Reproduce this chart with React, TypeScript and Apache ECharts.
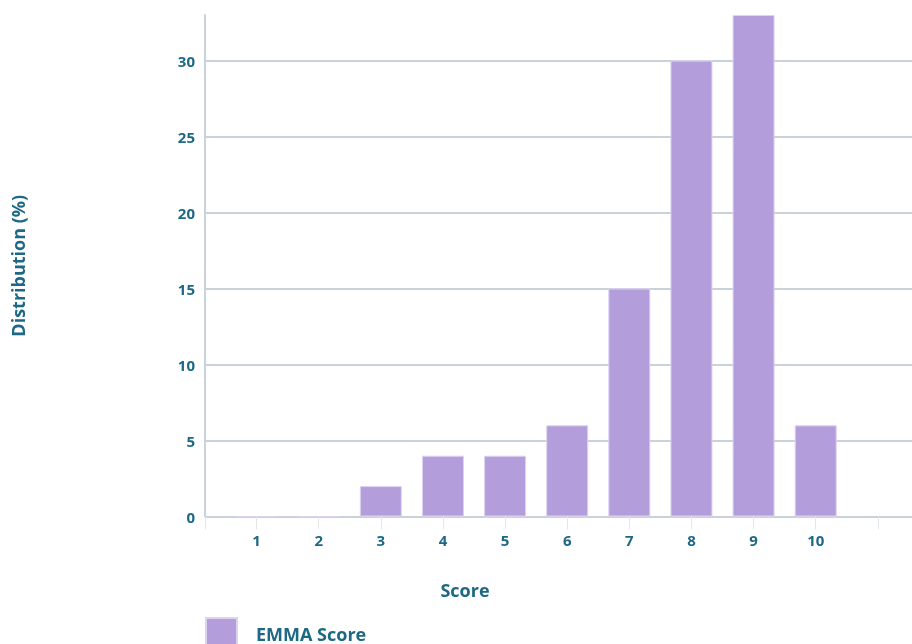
import React, { useEffect, useRef } from "react";
import * as echarts from "echarts";

const scores = [1, 2, 3, 4, 5, 6, 7, 8, 9, 10];
const distribution = [0, 0, 2, 4, 4, 6, 15, 30, 33, 6];
const tickValues = [0.17, 1, 2, 3, 4, 5, 6, 7, 8, 9, 10, 11];
const labelValues = [1, 2, 3, 4, 5, 6, 7, 8, 9, 10];
const seriesName = "EMMA Score";
const xTitle = "Score";
const yTitle = "Distribution (%)";

const TEXT = "#1d6985";
const GRID = "#c9d1db";
const FONT = "'Open Sans', 'Noto Sans', sans-serif";

export default function App() {
  const ref = useRef<HTMLDivElement>(null);
  useEffect(() => {
    if (!ref.current) return;
    const chart = echarts.init(ref.current, null, { renderer: "svg" });
    chart.setOption({
      animation: false,
      textStyle: { fontFamily: FONT },
      grid: { left: 205, top: 15, right: 0, bottom: 127.5, containLabel: false },
      xAxis: {
        type: "value",
        min: 0.17,
        max: 11.55,
        axisLine: { show: false },
        splitLine: { show: false },
        axisTick: {
          show: true,
          customValues: tickValues,
          length: 13,
          inside: false,
          lineStyle: { color: "#e4e8ed", width: 1 },
        },
        axisLabel: {
          customValues: labelValues,
          color: TEXT,
          fontWeight: "bold",
          fontSize: 15,
          fontFamily: FONT,
          margin: 16,
        },
      },
      yAxis: {
        type: "value",
        min: 0,
        max: 33,
        interval: 5,
        name: yTitle,
        nameLocation: "middle",
        nameGap: 178,
        nameTextStyle: { color: TEXT, fontWeight: "bold", fontSize: 18, fontFamily: FONT },
        axisLine: { show: true, lineStyle: { color: GRID, width: 2 } },
        axisTick: { show: false },
        splitLine: { show: true, showMaxLine: false, lineStyle: { color: GRID, width: 2 } },
        axisLabel: {
          color: TEXT,
          fontWeight: "bold",
          fontSize: 15,
          fontFamily: FONT,
          margin: 10,
          showMaxLabel: false,
        },
      },
      legend: {
        show: true,
        left: 205,
        top: 617,
        padding: 0,
        itemWidth: 31,
        itemHeight: 31,
        icon: "rect",
        textStyle: {
          color: TEXT,
          fontWeight: "bold",
          fontSize: 18,
          fontFamily: FONT,
          padding: [6, 0, 0, 14],
        },
        data: [seriesName],
      },
      graphic: [
        {
          type: "text",
          x: 465,
          y: 590,
          style: {
            text: xTitle,
            fill: TEXT,
            font: `bold 18px ${FONT}`,
            align: "center",
            verticalAlign: "middle",
          },
        },
      ],
      series: [
        {
          name: seriesName,
          type: "bar",
          barWidth: 42,
          data: scores.map((s, i) => [s, distribution[i]]),
          itemStyle: { color: "#b39ddb", borderColor: "#ddd3f1", borderWidth: 1 },
        },
      ],
    });
    return () => chart.dispose();
  }, []);
  return (
    <div
      ref={ref}
      style={{ position: "fixed", left: 0, top: 0, width: 912, height: 644 }}
    />
  );
}
